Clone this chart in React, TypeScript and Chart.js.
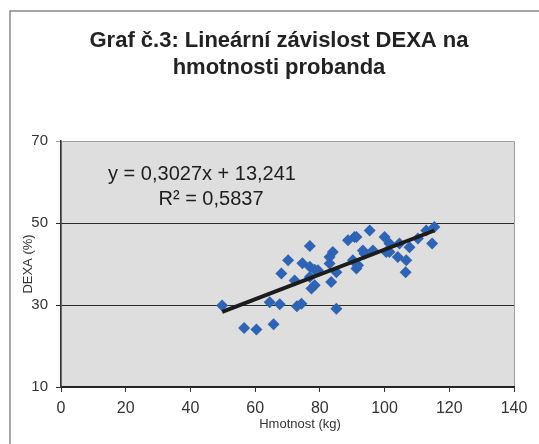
import React, { useEffect, useRef } from "react";
import { Chart, registerables } from "chart.js";

Chart.register(...registerables);

// ---- data ----
const weight = [
  49.8, 56.6, 60.4, 65.7, 64.5, 67.6, 68.1, 70.2, 72.2, 72.9,
  74.3, 76.9, 74.6, 76.9, 78.4, 76.9, 77.4, 78.4, 79.4, 83.0,
  84.0, 83.0, 85.1, 83.5, 85.1, 88.7, 90.7, 91.3, 95.4, 93.3,
  90.2, 91.3, 91.8, 93.8, 96.4, 100.0, 101.5, 100.5, 101.5, 104.6,
  107.7, 104.1, 106.7, 106.5, 110.3, 112.9, 115.4, 114.7,
];
const dexa = [
  29.9, 24.4, 24.0, 25.3, 30.7, 30.2, 37.7, 40.9, 36.0, 29.7,
  30.3, 44.4, 40.2, 39.3, 38.6, 36.8, 34.0, 34.8, 38.5, 40.1,
  42.9, 41.7, 38.0, 35.6, 29.1, 45.8, 46.6, 46.6, 48.2, 43.3,
  40.9, 38.9, 39.7, 42.5, 43.3, 46.6, 45.0, 42.9, 42.9, 45.0,
  44.1, 41.7, 40.9, 38.0, 46.2, 48.2, 49.0, 45.0,
];
const slope = 0.3027;
const intercept = 13.241;
const xRange = [0, 140];
const yRange = [10, 70];
const xStep = 20;
const yStep = 20;
const titleLines = ["Graf č.3: Lineární závislost DEXA na", "hmotnosti probanda"];
const equationLines = ["y = 0,3027x + 13,241", "R² = 0,5837"];
const xTitle = "Hmotnost (kg)";
const yTitle = "DEXA (%)";

const FONT = "'Liberation Sans', Arial, sans-serif";

export default function App() {
  const ref = useRef<HTMLCanvasElement | null>(null);

  useEffect(() => {
    const canvas = ref.current;
    if (!canvas) return;
    const points = weight.map((w, i) => ({ x: w, y: dexa[i] }));
    const minX = Math.min(...weight);
    const maxX = Math.max(...weight);
    const trend = [
      { x: minX, y: slope * minX + intercept },
      { x: maxX, y: slope * maxX + intercept },
    ];

    const decor = {
      id: "decor",
      beforeDraw(chart: any) {
        const { ctx, chartArea: a } = chart;
        ctx.save();
        ctx.fillStyle = "#ffffff";
        ctx.fillRect(0, 0, chart.width, chart.height);
        // outer frame (left + top)
        ctx.strokeStyle = "#8a8a8a";
        ctx.lineWidth = 1.5;
        ctx.beginPath();
        ctx.moveTo(10, 444);
        ctx.lineTo(10, 11);
        ctx.lineTo(539, 11);
        ctx.stroke();
        // plot area
        ctx.fillStyle = "#dedede";
        ctx.fillRect(a.left, a.top, a.right - a.left, a.bottom - a.top);
        ctx.strokeStyle = "#a0a0a0";
        ctx.lineWidth = 1;
        ctx.strokeRect(a.left + 0.5, a.top + 0.5, a.right - a.left, a.bottom - a.top);
        ctx.restore();
      },
      afterDraw(chart: any) {
        const { ctx, chartArea: a } = chart;
        ctx.save();
        ctx.fillStyle = "#222";
        ctx.textAlign = "center";
        ctx.textBaseline = "alphabetic";
        ctx.font = `bold 22px ${FONT}`;
        ctx.fillText(titleLines[0], 279, 47);
        ctx.fillText(titleLines[1], 279, 74);
        // equation
        ctx.fillStyle = "#1e1e1e";
        ctx.font = `20px ${FONT}`;
        ctx.fillText(equationLines[0], 202, 180);
        ctx.fillText(equationLines[1], 211, 205);
        // axis titles
        ctx.fillStyle = "#333";
        ctx.font = `13px ${FONT}`;
        ctx.fillText(xTitle, 300, 428);
        ctx.translate(28, (a.top + a.bottom) / 2);
        ctx.rotate(-Math.PI / 2);
        ctx.textBaseline = "middle";
        ctx.fillText(yTitle, 0, 0);
        ctx.restore();
      },
    };

    const chart = new Chart(canvas, {
      type: "scatter",
      data: {
        datasets: [
          {
            type: "line",
            data: trend,
            borderColor: "#1c1c1c",
            borderWidth: 4,
            pointRadius: 0,
            fill: false,
          } as any,
          {
            data: points,
            pointStyle: "rectRot",
            pointRadius: 6,
            backgroundColor: "#2f63b3",
            borderColor: "#2f63b3",
            borderWidth: 0,
          },
        ],
      },
      options: {
        animation: false,
        responsive: false,
        devicePixelRatio: 1,
        layout: { padding: { left: 0, top: 141, right: 25, bottom: 0 } },
        plugins: { legend: { display: false }, tooltip: { enabled: false }, title: { display: false } },
        scales: {
          x: {
            type: "linear",
            min: xRange[0],
            max: xRange[1],
            afterFit: (s: any) => {
              s.height = 57;
            },
            ticks: {
              stepSize: xStep,
              padding: 7,
              color: "#333",
              font: { family: FONT, size: 16 },
            },
            grid: {
              display: true,
              drawOnChartArea: false,
              drawTicks: true,
              tickLength: 5,
              color: "#333",
            },
            border: { display: true, color: "#222", width: 1.5 },
          },
          y: {
            type: "linear",
            min: yRange[0],
            max: yRange[1],
            afterFit: (s: any) => {
              s.width = 61;
            },
            ticks: {
              stepSize: yStep,
              padding: 8,
              color: "#333",
              font: { family: FONT, size: 15 },
            },
            grid: {
              color: (c: any) => (c.tick && c.tick.value === 70 ? "#a0a0a0" : "#2a2a2a"),
              tickLength: 5,
              lineWidth: 1,
            },
            border: { display: true, color: "#333", width: 1.5 },
          },
        },
      },
      plugins: [decor],
    });
    return () => chart.destroy();
  }, []);

  return (
    <div style={{ position: "absolute", left: 0, top: 0, width: 539, height: 444, background: "#fff" }}>
      <canvas ref={ref} width={539} height={444} style={{ display: "block" }} />
    </div>
  );
}
